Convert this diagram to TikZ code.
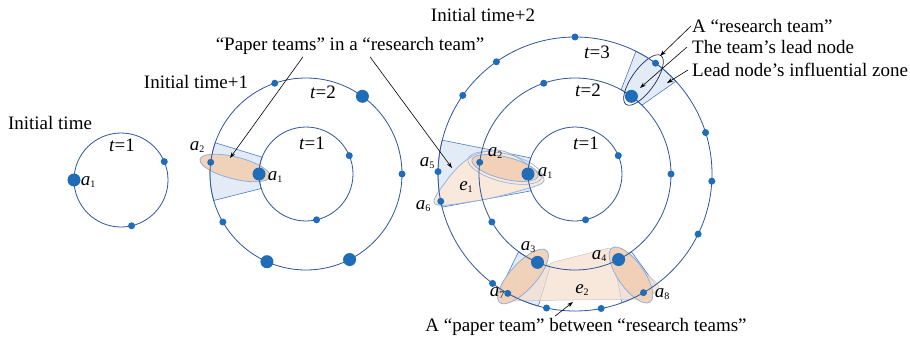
\documentclass[tikz,border=0pt]{standalone}
\usepackage{fontspec}
\setmainfont{Liberation Serif}
\usetikzlibrary{arrows.meta}

\definecolor{ringblue}{HTML}{2F5597}
\definecolor{dotblue}{HTML}{1F6CB8}
\definecolor{zonefill}{HTML}{E3EBF7}
\definecolor{zoneline}{HTML}{4A7CC0}
\definecolor{paperfill}{HTML}{F2CFB4}
\definecolor{paperline}{HTML}{8FB0DA}
\definecolor{bandfill}{HTML}{F6E0CF}
\definecolor{leadline}{HTML}{1B2F5E}

\newcommand{\alab}[1]{\textit{a}\raisebox{-.12em}{\fontsize{10}{10}\selectfont #1}}
\newcommand{\elab}[1]{\textit{e}\raisebox{-.12em}{\fontsize{10}{10}\selectfont #1}}
\newcommand{\tlab}[1]{\textit{t}=#1}

\begin{document}
\begin{tikzpicture}[x=1pt, y=-1pt, font=\fontsize{19}{22}\selectfont,
    ring/.style={ringblue, line width=.8pt},
    smalldot/.style={circle, fill=dotblue, inner sep=0pt, minimum size=7pt},
    bigdot/.style={circle, fill=dotblue, inner sep=0pt, minimum size=13pt},
    zone/.style={fill=zonefill, draw=zoneline, line width=.6pt},
    paper/.style={fill=paperfill, fill opacity=.9, draw=paperline, line width=.8pt},
    band/.style={fill=bandfill, fill opacity=.75, draw=gray!45, line width=.5pt},
    lead/.style={draw=leadline, line width=.7pt},
    pointer/.style={-{Stealth[length=6pt,width=4pt]}, line width=.6pt},
    lbl/.style={inner sep=0pt}]
\useasboundingbox (0,0) rectangle (910,345);

% initial time
\node[lbl] (head1) at (50,123) {Initial time};
\begin{scope}[shift={(121,180)}, y=1pt]
    \draw[ring] (0,0) circle (47);
    \node[bigdot] (one-a1) at (180:47) {};
    \node[smalldot] (one-b) at (23:47) {};
    \node[smalldot] (one-c) at (-77:47) {};
    \node[lbl] (one-t1) at (1,35) {\tlab{1}};
    \node[lbl] (one-l1) at (-33,-2) {\alab{1}};
\end{scope}

% initial time+1
\node[lbl] (head2) at (196,82) {Initial time+1};
\begin{scope}[shift={(306,174)}, y=1pt]
    \draw[zone] (161:96) arc[start angle=161, end angle=196, radius=96]
        -- (198:47) arc[start angle=198, end angle=159, radius=47] -- cycle;
    \draw[paper, rotate around={-14:(-71,6)}] (-71,6) ellipse (36 and 11);
    \draw[ring] (0,0) circle (47);
    \draw[ring] (0,0) circle (96);
    \node[bigdot] (two-a1) at (180:47) {};
    \node[smalldot] at (23:47) {};
    \node[smalldot] at (-77:47) {};
    \node[smalldot] at (109:96) {};
    \node[bigdot] at (54:96) {};
    \node[smalldot] at (0:96) {};
    \node[smalldot] (two-a2) at (173:96) {};
    \node[smalldot] at (210:96) {};
    \node[bigdot] at (246:96) {};
    \node[bigdot] at (297:96) {};
    \node[lbl] (two-t2) at (17,82) {\tlab{2}};
    \node[lbl] (two-t1) at (6,31) {\tlab{1}};
    \node[lbl] (two-l2) at (-109,27) {\alab{2}};
    \node[lbl] (two-l1) at (-31,-3) {\alab{1}};
\end{scope}

% initial time+2
\node[lbl] (head3) at (483,15) {Initial time+2};
\begin{scope}[shift={(575,174)}, y=1pt]
    % influential zones
    \draw[zone] (165.7:137) arc[start angle=165.7, end angle=194, radius=137]
        -- (201:47) arc[start angle=201, end angle=160, radius=47] -- cycle;
    \draw[zone] (42.6:137) arc[start angle=42.6, end angle=63.6, radius=137]
        -- (61.3:96) arc[start angle=61.3, end angle=45.8, radius=96] -- cycle;
    \draw[zone] (237:137) arc[start angle=237, end angle=254.5, radius=137]
        -- (255:96) arc[start angle=255, end angle=234, radius=96] -- cycle;
    \draw[zone] (290:137) arc[start angle=290, end angle=306, radius=137]
        -- (306:96) arc[start angle=306, end angle=294, radius=96] -- cycle;
    % paper teams
    \draw[fill=bandfill!70, draw=paperline, line width=.7pt]
        plot[smooth cycle, tension=.6] coordinates {(-140,-30) (-128,-6) (-110,13)
        (-92,22) (-72,23) (-48,10) (-31,-7) (-60,-18) (-100,-27)};
    \draw[paperline, line width=.6pt, rotate around={-14:(-70,6)}] (-70,6) ellipse (38 and 14);
    \draw[paper, rotate around={-14:(-70,6)}] (-70,6) ellipse (34 and 11);
    \draw[band, rounded corners=6pt] (-75,-127) -- (-25,-89) -- (38,-73)
        -- (86,-112) -- (73,-125) -- cycle;
    \draw[paper, rotate around={47.7:(-52,-102.5)}] (-52,-102.5) ellipse (35 and 13);
    \draw[paper, rotate around={-54.8:(56,-101)}] (56,-101) ellipse (33 and 13);
    \draw[lead, rotate around={54.3:(68.5,94)}] (68.5,94) ellipse (30 and 11.5);
    % rings
    \draw[ring] (0,0) circle (47);
    \draw[ring] (0,0) circle (96);
    \draw[ring] (0,0) circle (137);
    % t=1
    \node[bigdot] (three-a1) at (180:47) {};
    \node[smalldot] at (23:47) {};
    \node[smalldot] at (-77:47) {};
    % t=2
    \node[smalldot] at (109:96) {};
    \node[bigdot] (three-lead) at (54:96) {};
    \node[smalldot] at (0:96) {};
    \node[smalldot] (three-a2) at (173:96) {};
    \node[smalldot] at (210:96) {};
    \node[bigdot] (three-a3) at (247:96) {};
    \node[bigdot] (three-a4) at (297:96) {};
    % t=3
    \foreach \ang in {90,125,145,233,258,281,334,357,17.6,54}
        \node[smalldot] at (\ang:137) {};
    \node[smalldot] (three-a5) at (179:137) {};
    \node[smalldot] (three-a6) at (191.5:137) {};
    \node[smalldot] (three-a7) at (240.6:137) {};
    \node[smalldot] (three-a8) at (300:137) {};
    % labels
    \node[lbl] (three-t3) at (22,122) {\tlab{3}};
    \node[lbl] (three-t2) at (13,84) {\tlab{2}};
    \node[lbl] (three-t1) at (11,31) {\tlab{1}};
    \node[lbl] (three-l2) at (-80,21) {\alab{2}};
    \node[lbl] (three-l1) at (-30,1) {\alab{1}};
    \node[lbl] (three-l5) at (-148,11) {\alab{5}};
    \node[lbl] (three-l6) at (-152,-32) {\alab{6}};
    \node[lbl] (three-e1) at (-109,-13) {\elab{1}};
    \node[lbl] (three-l3) at (-47,-73) {\alab{3}};
    \node[lbl] (three-l4) at (24,-82) {\alab{4}};
    \node[lbl] (three-l7) at (-78,-119) {\alab{7}};
    \node[lbl] (three-l8) at (87,-120) {\alab{8}};
    \node[lbl] (three-e2) at (7,-116) {\elab{2}};
\end{scope}

% callouts
\node[lbl] (papers) at (350,46) {“Paper teams” in a “research team”};
\node[lbl, anchor=west] (rteam) at (692,26) {A “research team”};
\node[lbl, anchor=west] (leadnode) at (692,47) {The team’s lead node};
\node[lbl, anchor=west] (leadzone) at (692,70) {Lead node’s influential zone};
\node[lbl] (between) at (586,327) {A “paper team” between “research teams”};

\coordinate (pt-one) at (230,158);
\coordinate (pt-two) at (452,168);
\coordinate (rt-head) at (660,56);
\coordinate (ln-head) at (640,88);
\coordinate (lz-head) at (667,83);
\coordinate (bt-head) at (573,302);

\draw[pointer] ([xshift=-47pt, yshift=-2pt]papers.south) -- (pt-one);
\draw[pointer] ([xshift=20pt, yshift=-2pt]papers.south) -- (pt-two);
\draw[pointer] ([xshift=-1pt]rteam.west) -- (rt-head);
\draw[pointer] ([xshift=-5pt]leadnode.west) -- (ln-head);
\draw[pointer] ([xshift=-4pt]leadzone.west) -- (lz-head);
\draw[pointer] ([xshift=-31pt, yshift=2pt]between.north) -- (bt-head);
\end{tikzpicture}
\end{document}
